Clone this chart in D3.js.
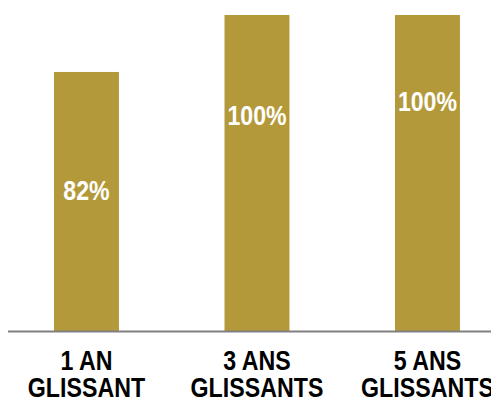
<!DOCTYPE html>
<html>
<head>
<meta charset="utf-8">
<script src="https://cdn.jsdelivr.net/npm/d3@7"></script>
<style>
  html, body { margin: 0; padding: 0; background: #fff; }
  svg { display: block; }
  text { font-family: "Liberation Sans", Arial, sans-serif; font-weight: bold; }
</style>
</head>
<body>
<svg id="chart" width="491" height="401"></svg>
<script>
// Taux par période glissante
const categories = [["1 AN", "GLISSANT"], ["3 ANS", "GLISSANTS"], ["5 ANS", "GLISSANTS"]];
const values = [82, 100, 100];
const valueLabels = ["82%", "100%", "100%"];

const W = 491, H = 401;
const svg = d3.select("#chart");

const baseY = 331.5;
const x = d3.scaleBand()
  .domain(d3.range(categories.length))
  .range([2.85, 511.1])
  .paddingInner(0.619)
  .paddingOuter(0.3);

const y = d3.scaleLinear().domain([0, 100]).range([baseY, 15]);

const gold = "#B4993A";

// bars
svg.selectAll("rect.bar")
  .data(values)
  .join("rect")
  .attr("class", "bar")
  .attr("x", (d, i) => x(i))
  .attr("width", x.bandwidth())
  .attr("y", d => y(d))
  .attr("height", d => baseY - y(d))
  .attr("fill", gold);

// value labels sit at hand-placed heights within each bar (share of bar height from top)
const labelDepth = [0.455, 0.316, 0.272];
svg.selectAll("text.val")
  .data(values)
  .join("text")
  .attr("class", "val")
  .attr("transform", (d, i) =>
    `translate(${x(i) + x.bandwidth() / 2},${y(d) + (baseY - y(d)) * labelDepth[i]}) scale(0.825,1)`)
  .attr("dy", "0.35em")
  .attr("text-anchor", "middle")
  .attr("fill", "#fff")
  .attr("font-size", 28)
  .text((d, i) => valueLabels[i]);

// baseline
svg.append("line")
  .attr("x1", 8).attr("x2", W)
  .attr("y1", baseY).attr("y2", baseY)
  .attr("stroke", "#808080")
  .attr("stroke-width", 2);

// category labels, two lines each, condensed
const lineY = [370, 397];
const cat = svg.selectAll("g.cat")
  .data(categories)
  .join("g")
  .attr("class", "cat")
  .attr("transform", (d, i) => `translate(${x(i) + x.bandwidth() / 2},0)`);

cat.selectAll("text")
  .data(d => d)
  .join("text")
  .attr("text-anchor", "middle")
  .attr("fill", "#000")
  .attr("font-size", 27)
  .attr("transform", (d, j) => `translate(0,${lineY[j]}) scale(0.86,1)`)
  .text(d => d);
</script>
</body>
</html>
